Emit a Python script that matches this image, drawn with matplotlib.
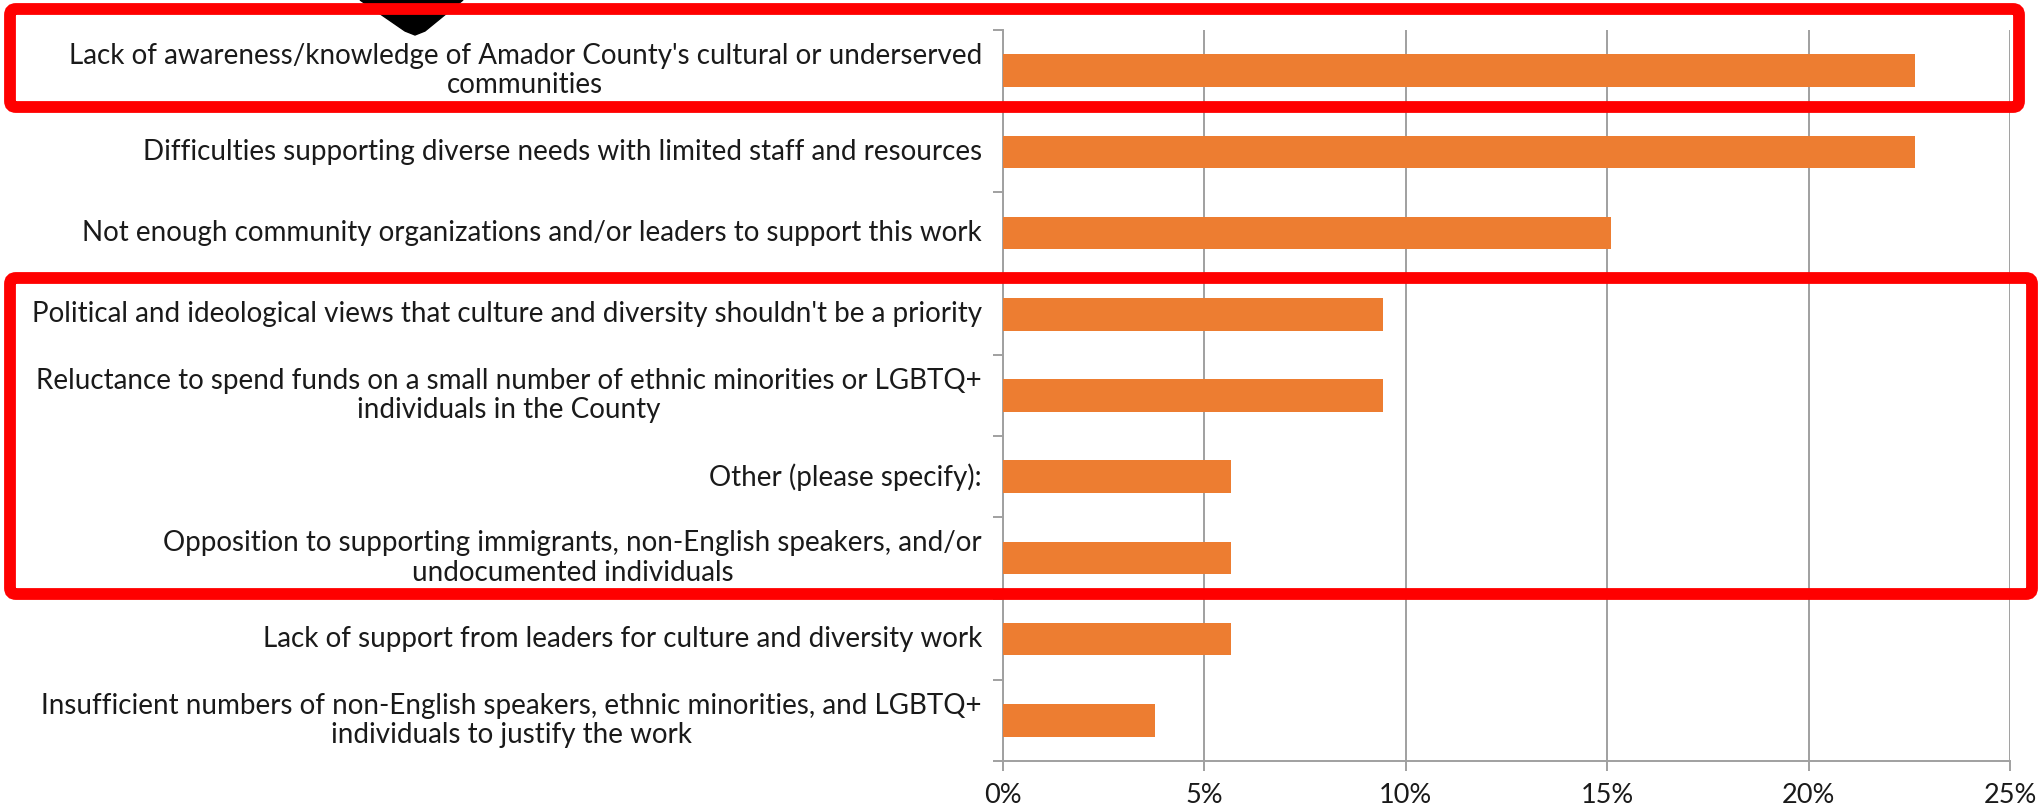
import numpy as np
import matplotlib
matplotlib.use('Agg')
import matplotlib.pyplot as plt
from matplotlib.patches import FancyBboxPatch, Polygon
from matplotlib.transforms import IdentityTransform
from matplotlib.ticker import FuncFormatter

labels = [
    "Lack of awareness/knowledge of Amador County's cultural or underserved\ncommunities",
    "Difficulties supporting diverse needs with limited staff and resources",
    "Not enough community organizations and/or leaders to support this work",
    "Political and ideological views that culture and diversity shouldn't be a priority",
    "Reluctance to spend funds on a small number of ethnic minorities or LGBTQ+\nindividuals in the County",
    "Other (please specify):",
    "Opposition to supporting immigrants, non-English speakers, and/or\nundocumented individuals",
    "Lack of support from leaders for culture and diversity work",
    "Insufficient numbers of non-English speakers, ethnic minorities, and LGBTQ+\nindividuals to justify the work",
]
values = [22.64, 22.64, 15.09, 9.43, 9.43, 5.66, 5.66, 5.66, 3.77]
xticks = [0, 5, 10, 15, 20, 25]

W, H = 2040, 806
plt.rcParams['font.family'] = ['Lato', 'DejaVu Sans']
fig = plt.figure(figsize=(W / 100, H / 100), dpi=100)
ax = fig.add_axes([1003 / W, 1 - 761 / H, (2010 - 1003) / W, (761 - 30) / H])

grey = '#a0a0a0'
y = np.arange(len(labels))
ax.barh(y, values, height=0.4, color='#ED7D31', zorder=3)
ax.set_xlim(0, 25)
ax.set_ylim(len(labels) - 0.5, -0.5)
ax.set_xticks(xticks)
ax.xaxis.set_major_formatter(FuncFormatter(lambda v, p: '%d%%' % v))
ax.grid(axis='x', color=grey, lw=1.4, zorder=0)
ax.set_yticks(np.arange(-0.5, len(labels), 1))
ax.set_yticklabels([])
for s in ['top', 'right']:
    ax.spines[s].set_visible(False)
for s in ['left', 'bottom']:
    ax.spines[s].set_color(grey)
    ax.spines[s].set_linewidth(1.4)
ax.tick_params(axis='both', color=grey, width=1.4, length=7, labelsize=19.5, pad=9)
ax.tick_params(axis='x', labelcolor='#1a1a1a')

for yi, lab in zip(y, labels):
    ax.text(-21 / 40.28, yi, lab, ha='right', va='center', multialignment='center',
            fontsize=20, color='#1a1a1a', linespacing=1.15)

# annotation overlays
arrow = Polygon([(360, H), (463, H), (425, H - 31), (415, H - 35), (405, H - 31)],
                closed=True, color='black', transform=IdentityTransform())
fig.patches.append(arrow)
for (x0, y0, x1, y1) in [(10, 9, 2019, 107), (10, 278, 2032, 594)]:
    r = FancyBboxPatch((x0, H - y1), x1 - x0, y1 - y0,
                       boxstyle='round,pad=0,rounding_size=6', fill=False,
                       ec='#ff0000', lw=8.5, transform=IdentityTransform())
    fig.patches.append(r)

fig.savefig('out.png', dpi=100)
